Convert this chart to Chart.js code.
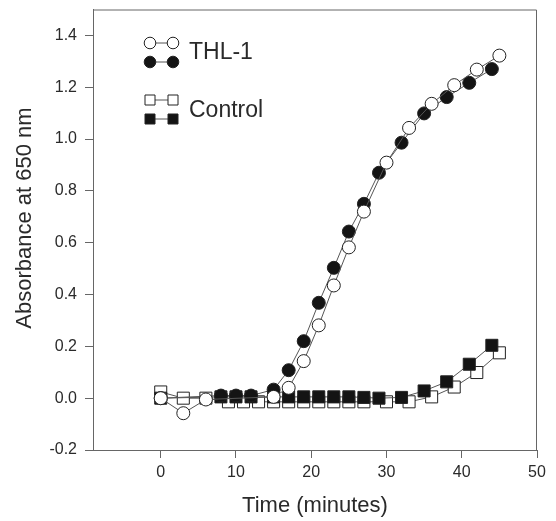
<!DOCTYPE html>
<html>
<head>
<meta charset="utf-8">
<script src="https://cdn.jsdelivr.net/npm/chart.js@4/dist/chart.umd.min.js"></script>
<style>
html,body{margin:0;padding:0;background:#fff;}
#wrap{width:556px;height:521px;}
</style>
</head>
<body>
<div id="wrap"><canvas id="grafico" width="556" height="521"></canvas></div>
<script>
// tiempos en minutos (abiertos y llenos no coinciden)
const tiempoAbierto = [0,3,6,15,17,19,21,23,25,27,30,33,36,39,42,45];
const tiempoLleno   = [0,8,10,12,15,17,19,21,23,25,27,29,32,35,38,41,44];
const tiempoControl = [0,3,6,9,11,13,15,17,19,21,23,25,27,30,33,36,39,42,45];

// absorbancia a 650 nm
const thlAbierto     = [0.0,-0.058,-0.005,0.005,0.04,0.143,0.281,0.435,0.582,0.72,0.909,1.043,1.136,1.208,1.268,1.322];
const thlLleno       = [0.0,0.01,0.01,0.01,0.033,0.108,0.22,0.368,0.503,0.643,0.75,0.87,0.986,1.099,1.162,1.217,1.27];
const controlAbierto = [0.024,0.0,0.0,-0.014,-0.014,-0.014,-0.014,-0.014,-0.014,-0.014,-0.014,-0.014,-0.014,-0.014,-0.014,0.005,0.043,0.099,0.175];
const controlLleno   = [0.0,0.005,0.005,0.005,0.005,0.005,0.005,0.005,0.005,0.005,0.003,0.0,0.003,0.028,0.063,0.131,0.204];

const ticksX = [0,10,20,30,40,50];
const ticksY = [-0.2,0,0.2,0.4,0.6,0.8,1.0,1.2,1.4];
const etiquetas = ['THL-1','Control'];
const tituloY = 'Absorbance at 650 nm';

const fuente = 'Liberation Sans, Arial, sans-serif';
const colorTexto = '#2a2a2a';
const colorLinea = '#555';
const colorBorde = '#222';
const colorLleno = '#141414';

function puntos(xs, ys) {
	return xs.map((x, i) => ({x: x, y: ys[i]}));
}

function serie(xs, ys, forma, lleno) {
	return {
		data: puntos(xs, ys),
		showLine: true,
		borderColor: colorLinea,
		borderWidth: 1,
		pointStyle: forma,
		pointRadius: forma === 'rect' ? 8.5 : 6.5,
		pointHoverRadius: forma === 'rect' ? 8.5 : 6.5,
		pointBorderColor: colorBorde,
		pointBorderWidth: 1,
		pointBackgroundColor: lleno ? colorLleno : '#fff'
	};
}

// recuadro arriba y a la derecha
const marco = {
	id: 'marco',
	beforeDatasetsDraw(chart) {
		const {ctx, chartArea: a} = chart;
		ctx.save();
		ctx.strokeStyle = '#666';
		ctx.lineWidth = 1;
		ctx.beginPath();
		ctx.moveTo(a.left, a.top + 0.5);
		ctx.lineTo(a.right - 0.5, a.top + 0.5);
		ctx.lineTo(a.right - 0.5, a.bottom);
		ctx.stroke();
		ctx.restore();
	}
};

function simbolo(ctx, forma, x, y, lleno) {
	ctx.beginPath();
	if (forma === 'circle') {
		ctx.arc(x, y, 5.8, 0, Math.PI * 2);
	} else {
		ctx.rect(x - 5, y - 5, 10, 10);
	}
	ctx.fillStyle = lleno ? colorLleno : '#fff';
	ctx.fill();
	ctx.strokeStyle = colorBorde;
	ctx.lineWidth = 1;
	ctx.stroke();
}

// leyenda dentro del area y titulo del eje Y (un poco por encima del centro)
const leyenda = {
	id: 'leyenda',
	afterDraw(chart) {
		const ctx = chart.ctx;
		const filas = [
			{y1: 43, y2: 62, ty: 53, forma: 'circle', texto: etiquetas[0]},
			{y1: 100, y2: 119, ty: 111, forma: 'rect', texto: etiquetas[1]}
		];
		ctx.save();
		filas.forEach(f => {
			[f.y1, f.y2].forEach((yy, k) => {
				ctx.beginPath();
				ctx.moveTo(150, yy);
				ctx.lineTo(173, yy);
				ctx.strokeStyle = colorLinea;
				ctx.lineWidth = 1;
				ctx.stroke();
				simbolo(ctx, f.forma, 150, yy, k === 1);
				simbolo(ctx, f.forma, 173, yy, k === 1);
			});
			ctx.fillStyle = colorTexto;
			ctx.font = '23px ' + fuente;
			ctx.textBaseline = 'middle';
			ctx.textAlign = 'left';
			ctx.fillText(f.texto, 189, f.ty);
		});
		ctx.translate(25, 218);
		ctx.rotate(-Math.PI / 2);
		ctx.font = '22px ' + fuente;
		ctx.textAlign = 'center';
		ctx.fillText(tituloY, 0, 0);
		ctx.restore();
	}
};

const ctx = document.getElementById('grafico').getContext('2d');
new Chart(ctx, {
	type: 'scatter',
	data: {
		datasets: [
			serie(tiempoAbierto, thlAbierto, 'circle', false),
			serie(tiempoLleno, thlLleno, 'circle', true),
			serie(tiempoLleno, controlLleno, 'rect', true),
			serie(tiempoControl, controlAbierto, 'rect', false)
		]
	},
	options: {
		responsive: false,
		animation: false,
		devicePixelRatio: 1,
		layout: {padding: {left: 0, right: 19, top: 8, bottom: 0}},
		plugins: {
			legend: {display: false},
			tooltip: {enabled: false}
		},
		scales: {
			x: {
				type: 'linear',
				min: -9,
				max: 50,
				afterBuildTicks: axis => { axis.ticks = ticksX.map(v => ({value: v})); },
				afterFit: scale => { scale.height = 71; scale.paddingLeft = 0; scale.paddingRight = 0; },
				grid: {display: true, drawOnChartArea: false, drawTicks: true, tickLength: 8, color: '#666'},
				border: {display: true, color: '#666'},
				ticks: {color: colorTexto, font: {family: fuente, size: 16}, padding: 5, maxRotation: 0},
				title: {display: true, text: 'Time (minutes)', color: colorTexto, font: {family: fuente, size: 22}, padding: {top: 0, bottom: 2}}
			},
			y: {
				type: 'linear',
				min: -0.2,
				max: 1.5,
				afterBuildTicks: axis => { axis.ticks = ticksY.map(v => ({value: v})); },
				afterFit: scale => { scale.width = 93; scale.paddingTop = 0; scale.paddingBottom = 0; },
				grid: {display: true, drawOnChartArea: false, drawTicks: true, tickLength: 8, color: '#666'},
				border: {display: true, color: '#666'},
				ticks: {color: colorTexto, font: {family: fuente, size: 16}, padding: 8, callback: v => v.toFixed(1)},
				title: {display: false}
			}
		}
	},
	plugins: [marco, leyenda]
});
</script>
</body>
</html>
